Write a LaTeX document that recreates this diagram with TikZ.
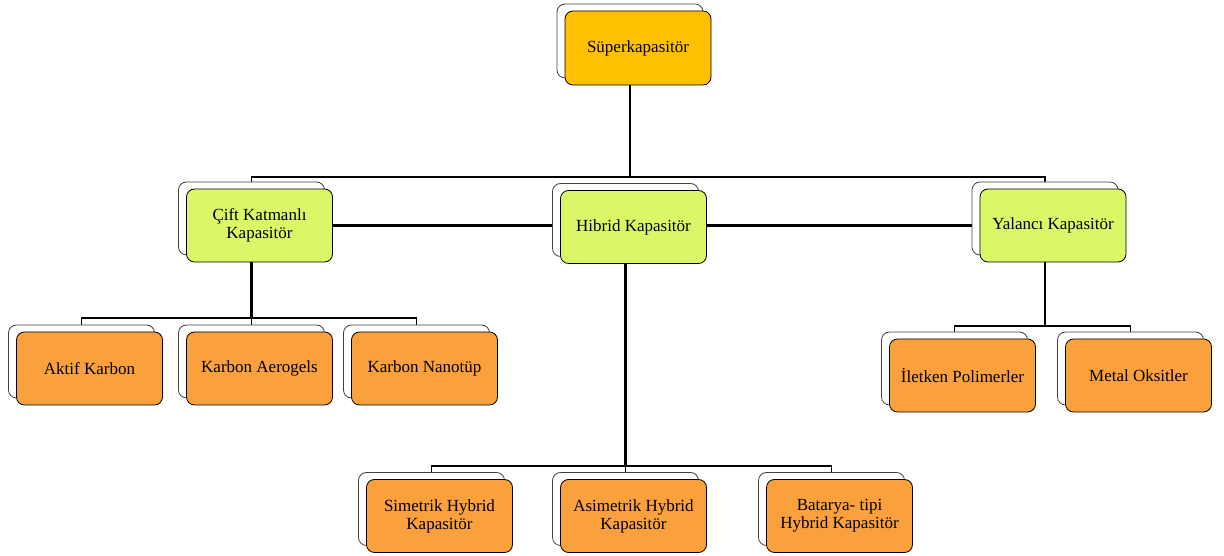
\documentclass[tikz,border=0pt]{standalone}
\usepackage{fontspec}
\setmainfont{Liberation Serif}
\usetikzlibrary{shadows,backgrounds}
\definecolor{rootgold}{RGB}{255,192,0}
\definecolor{typegreen}{RGB}{218,247,104}
\definecolor{suborange}{RGB}{250,160,60}

\begin{document}
\begin{tikzpicture}[x=1pt, y=1pt,
	box/.style = {draw, line width=0.8pt, rounded corners=8pt, minimum width=146pt, minimum height=73pt, align=center, font=\rmfamily\fontsize{17}{18}\selectfont, copy shadow={shadow xshift=-8pt, shadow yshift=7pt, fill=white, draw=black!75}},
	rootbox/.style = {box, fill=rootgold, minimum height=74pt},
	typebox/.style = {box, fill=typegreen},
	subbox/.style = {box, fill=suborange},
	trunk/.style = {line width=2.4pt},
	branch/.style = {line width=1.5pt}]

	\useasboundingbox (0,0) rectangle (1224,556);

	\node[rootbox] (1) at (638,508) {Süperkapasitör};
	\node[typebox] (2) at (259.5,330.5) {Çift Katmanlı\\Kapasitör};
	\node[typebox] (3) at (633.5,329) {Hibrid Kapasitör};
	\node[typebox] (4) at (1053,330.5) {Yalancı Kapasitör};
	\node[subbox] (5) at (89.5,187.5) {Aktif Karbon};
	\node[subbox] (6) at (259.5,187.5) {Karbon Aerogels};
	\node[subbox] (7) at (424.5,187.5) {Karbon Nanotüp};
	\node[subbox] (8) at (439.5,40) {Simetrik Hybrid\\Kapasitör};
	\node[subbox] (9) at (633.5,40) {Asimetrik Hybrid\\Kapasitör};
	\node[subbox] (10) at (839.5,40) {Batarya- tipi\\Hybrid Kapasitör};
	\node[subbox] (11) at (962.5,180.5) {İletken Polimerler};
	\node[subbox] (12) at (1138.5,180.5) {Metal Oksitler};

	\coordinate (j1) at (630,379);
	\coordinate (j2) at (251.5,238);
	\coordinate (j3) at (625.5,90);
	\coordinate (j4) at (1045,230);

	\begin{scope}[on background layer]
	\draw[trunk] ([xshift=-8pt]1.south) -- (j1);
	\draw[branch] ([xshift=-8pt]2.north) |- (j1) -| ([xshift=-8pt]4.north);
	\draw[trunk] (2.east) -- (4.west);

	\draw[trunk] ([xshift=-8pt]2.south) -- (j2);
	\draw[branch] ([xshift=-8pt]5.north) |- (j2) -| ([xshift=-8pt]7.north);
	\draw[branch] (j2) -- ([xshift=-8pt]6.north);

	\draw[trunk] ([xshift=-8pt]3.south) -- (j3);
	\draw[branch] ([xshift=-8pt]8.north) |- (j3) -| ([xshift=-8pt]10.north);
	\draw[branch] (j3) -- ([xshift=-8pt]9.north);

	\draw[trunk] ([xshift=-8pt]4.south) -- (j4);
	\draw[branch] ([xshift=-8pt]11.north) |- (j4) -| ([xshift=-8pt]12.north);
	\end{scope}

\end{tikzpicture}
\end{document}
